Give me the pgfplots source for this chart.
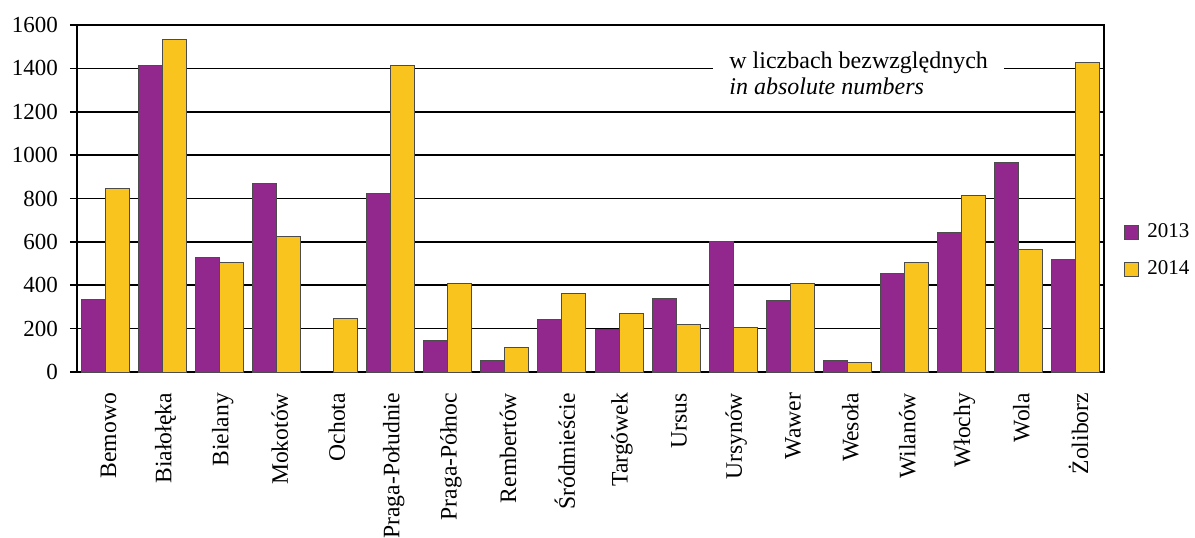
\documentclass[border=0pt]{standalone}
\usepackage{pgfplots}
\pgfplotsset{compat=1.18}
\usepackage{fontspec}
\setmainfont{Liberation Serif}
\definecolor{cpurple}{RGB}{146,39,142}
\definecolor{cyellow}{RGB}{249,196,30}
\begin{document}
\begin{tikzpicture}
\useasboundingbox (0,0) rectangle (597.5pt,268.5pt);
\begin{axis}[
  at={(38.5pt,82.5pt)}, anchor=south west,
  scale only axis, width=513.5pt, height=173.5pt,
  ybar=0pt, bar width=12pt,
  xmin=-0.5, xmax=17.5, ymin=0, ymax=1600,
  xtick={0,...,17},
  xticklabels={Bemowo,Białołęka,Bielany,Mokotów,Ochota,Praga-Południe,Praga-Północ,Rembertów,Śródmieście,Targówek,Ursus,Ursynów,Wawer,Wesoła,Wilanów,Włochy,Wola,Żoliborz},
  xtick style={draw=none},
  xticklabel style={rotate=90, anchor=east, font=\fontsize{11.8pt}{14pt}\selectfont, xshift=-3.5pt, yshift=-1.5pt},
  ytick={0,200,...,1600},
  yticklabel style={font=\fontsize{11.5pt}{13pt}\selectfont, xshift=-2.5pt},
  /pgf/number format/assume math mode=true,
  /pgf/number format/1000 sep={},
  ymajorgrids, grid style={black, line width=0.8pt},
  ytick style={black, line width=0.8pt},
  tick align=outside, tick pos=left, major tick length=3.5pt,
  axis line style={black, line width=1pt},
  legend style={at={(1.019,0.35)}, anchor=west, draw=none, fill=none,
    font=\fontsize{10.5pt}{13pt}\selectfont, row sep=6pt, inner sep=0pt},
  legend cell align=left,
  legend image code/.code={\path[draw=none, fill=none] (0pt,0pt) -- (9.5pt,0pt); \draw[#1, draw=black!70, line width=0.5pt] (0pt,-3.5pt) rectangle (7pt,3.5pt);},
]
\addplot[fill=cpurple, draw=black!70, line width=0.5pt] coordinates {
(0,336) (1,1415) (2,530) (3,867) (5,825) (6,143) (7,51) (8,244) (9,198) (10,341) (11,600) (12,332) (13,55) (14,452) (15,645) (16,964) (17,521)};
\addplot[fill=cyellow, draw=black!70, line width=0.5pt] coordinates {
(0,848) (1,1535) (2,507) (3,627) (4,249) (5,1415) (6,406) (7,115) (8,364) (9,272) (10,221) (11,207) (12,410) (13,46) (14,507) (15,816) (16,567) (17,1429)};
\legend{2013,2014}
\node[fill=white, align=left, inner xsep=8pt, inner ysep=2pt, font=\fontsize{12pt}{13pt}\selectfont] at (axis cs:13.2,1378) {w liczbach bezwzględnych\\\textit{in absolute numbers}};
\end{axis}
\end{tikzpicture}
\end{document}
